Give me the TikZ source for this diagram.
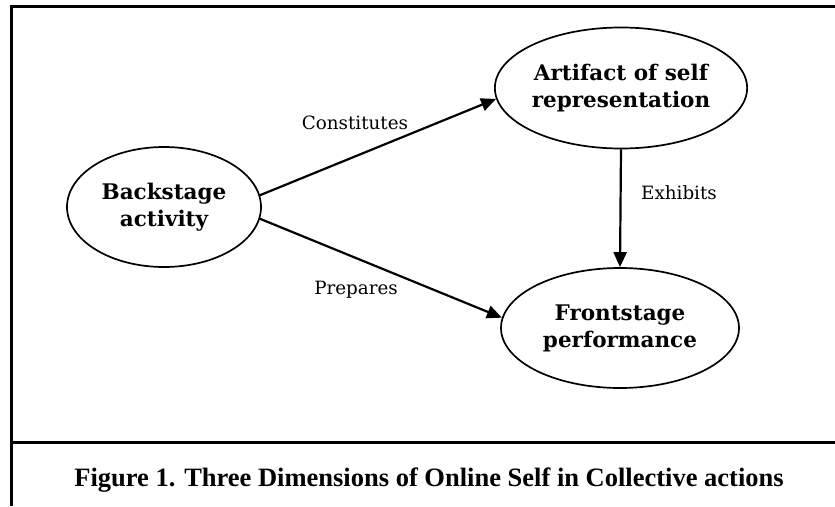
\documentclass[tikz,border=0pt]{standalone}
\usepackage{fontspec}
\setmainfont{DejaVu Serif}
\newfontfamily\capfont{Liberation Serif}
\usetikzlibrary{arrows.meta,positioning,shapes.geometric}

\begin{document}
\begin{tikzpicture}[x=1pt, y=-1pt,
  nd/.style={draw, ellipse, line width=1.7pt, inner sep=0pt, align=center,
             font=\fontsize{21.5}{27}\selectfont\bfseries},
  lb/.style={font=\fontsize{18.3}{21}\selectfont},
  ln/.style={->, line width=2.2pt},
  >={Triangle[length=15pt,width=13pt]}]
  \useasboundingbox (0,0) rectangle (835,506);
  % frame
  \draw[line width=3pt] (835,6) -- (11,6) -- (11,506);
  \draw[line width=3pt] (11,442) -- (835,442);
  % ellipses
  \node[nd, minimum width=194pt, minimum height=120pt] (B) at (164,207) {Backstage\\activity};
  \node[nd, minimum width=240pt, minimum height=121pt] (A) at (621,88) {Artifact of self\\representation};
  \node[nd, minimum width=238pt, minimum height=120pt] (F) at (620,328) {Frontstage\\performance};
  \draw[ln] (B.7) -- (A.185);
  \draw[ln] (B.-7) -- (F.175);
  \draw[ln] (A.south) -- (F.north);
  % edge labels
  \node[lb] (c) at (355,123) {Constitutes};
  \node[lb] (p) at (356,290) {Prepares};
  \node[lb] (e) at (679,193) {Exhibits};
  % caption
  \node[font=\capfont\fontsize{26.5}{30}\selectfont\bfseries, anchor=base] (cap) at (429,486)
    {Figure 1. Three Dimensions of Online Self in Collective actions};
\end{tikzpicture}
\end{document}
